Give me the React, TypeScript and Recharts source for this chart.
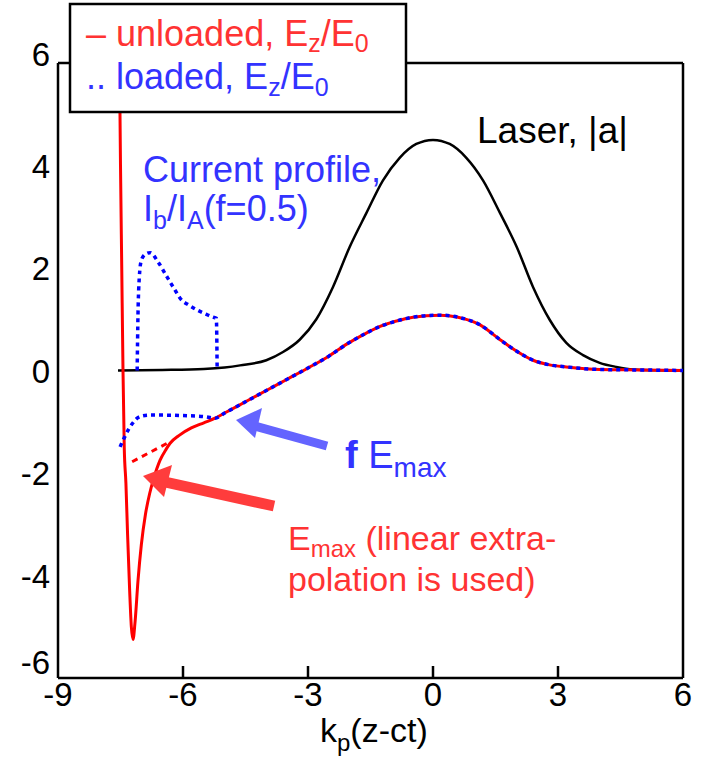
import React from "react";
import { LineChart, Line, XAxis, YAxis, ReferenceLine } from "recharts";

const xTicks = [-9, -6, -3, 0, 3, 6];
const yTicks = [-6, -4, -2, 0, 2, 4, 6];

// laser envelope |a|
const laser = [
  { x: -7.56, y: 0 }, { x: -6.5, y: 0.01 }, { x: -5.5, y: 0.03 }, { x: -5, y: 0.06 },
  { x: -4.63, y: 0.1 }, { x: -4, y: 0.2 }, { x: -3.6, y: 0.36 }, { x: -3.2, y: 0.6 },
  { x: -2.8, y: 1.0 }, { x: -2.4, y: 1.63 }, { x: -2.0, y: 2.41 }, { x: -1.6, y: 3.07 },
  { x: -1.2, y: 3.71 }, { x: -0.8, y: 4.15 }, { x: -0.4, y: 4.42 }, { x: 0, y: 4.5 },
  { x: 0.4, y: 4.42 }, { x: 0.8, y: 4.15 }, { x: 1.2, y: 3.71 }, { x: 1.61, y: 3.07 },
  { x: 2.01, y: 2.41 }, { x: 2.4, y: 1.63 }, { x: 2.8, y: 0.99 }, { x: 3.2, y: 0.54 },
  { x: 3.6, y: 0.3 }, { x: 4.0, y: 0.15 }, { x: 4.4, y: 0.07 }, { x: 4.8, y: 0.02 },
  { x: 5.4, y: 0.005 }, { x: 6, y: 0 },
];

// shared wake (x > -5.23)
const wakeTail = [
  { x: -5.0, y: -0.83 }, { x: -4.5, y: -0.61 }, { x: -4.0, y: -0.39 }, { x: -3.5, y: -0.17 },
  { x: -3.0, y: 0.05 }, { x: -2.5, y: 0.28 }, { x: -2.06, y: 0.52 }, { x: -1.6, y: 0.73 },
  { x: -1.27, y: 0.86 }, { x: -0.9, y: 0.96 }, { x: -0.48, y: 1.04 }, { x: 0.17, y: 1.08 },
  { x: 0.6, y: 1.04 }, { x: 1.13, y: 0.89 }, { x: 1.61, y: 0.6 }, { x: 2.0, y: 0.38 },
  { x: 2.4, y: 0.2 }, { x: 2.8, y: 0.11 }, { x: 3.2, y: 0.07 }, { x: 4.0, y: 0.02 },
  { x: 5.0, y: 0.01 }, { x: 6.0, y: 0 },
];

const unloadedHead = [
  { x: -7.53, y: 6.5 }, { x: -7.5, y: 4.0 }, { x: -7.47, y: 2.0 }, { x: -7.44, y: 0 },
  { x: -7.41, y: -1.5 }, { x: -7.37, y: -2.2 }, { x: -7.33, y: -3.2 }, { x: -7.28, y: -4.3 },
  { x: -7.24, y: -5.0 }, { x: -7.2, y: -5.25 }, { x: -7.15, y: -4.9 }, { x: -7.08, y: -4.1 },
  { x: -7.0, y: -3.4 }, { x: -6.9, y: -2.8 }, { x: -6.8, y: -2.4 }, { x: -6.7, y: -2.1 },
  { x: -6.55, y: -1.75 }, { x: -6.4, y: -1.53 }, { x: -6.31, y: -1.42 }, { x: -6.1, y: -1.27 },
  { x: -5.8, y: -1.12 }, { x: -5.5, y: -1.02 }, { x: -5.23, y: -0.93 },
];

const loadedHead = [
  { x: -7.51, y: -1.49 }, { x: -7.45, y: -1.38 }, { x: -7.39, y: -1.28 }, { x: -7.3, y: -1.14 },
  { x: -7.2, y: -1.02 }, { x: -7.1, y: -0.93 }, { x: -7.0, y: -0.89 }, { x: -6.8, y: -0.87 },
  { x: -6.5, y: -0.87 }, { x: -6.0, y: -0.88 }, { x: -5.5, y: -0.9 }, { x: -5.23, y: -0.93 },
];

const unloaded = [...unloadedHead, ...wakeTail];
const loaded = [...loadedHead, ...wakeTail];

// linear extrapolation of E_max
const extrap = [
  { x: -7.22, y: -1.78 }, { x: -6.31, y: -1.39 },
];

// current profile I_b/I_A
const current = [
  { x: -7.1, y: 0 }, { x: -7.08, y: 1.1 }, { x: -7.05, y: 1.8 }, { x: -7.0, y: 2.15 },
  { x: -6.9, y: 2.27 }, { x: -6.79, y: 2.3 }, { x: -6.6, y: 2.12 }, { x: -6.38, y: 1.82 },
  { x: -6.2, y: 1.58 }, { x: -6.07, y: 1.41 }, { x: -5.85, y: 1.27 }, { x: -5.66, y: 1.18 },
  { x: -5.45, y: 1.1 }, { x: -5.28, y: 1.04 }, { x: -5.2, y: 1.02 }, { x: -5.18, y: 0 },
];

const font = '"Liberation Sans", Arial, sans-serif';
const RED = "#ff0000";
const BLUE = "#0000ff";
const RED_TXT = "#ff3333";
const BLUE_TXT = "#3333ff";

const XTick = (props: any) => {
  const { x, y, payload } = props;
  const v = payload.value;
  return (
    <g>
      {v !== -9 && v !== 6 && (
        <line x1={x} x2={x} y1={y} y2={y - 12} stroke="#000" strokeWidth={2.5} />
      )}
      <text x={x} y={y + 28} textAnchor="middle" fontSize={33} fontFamily={font} fill="#000">
        {v}
      </text>
    </g>
  );
};

const YTick = (props: any) => {
  const { x, y, payload } = props;
  const v = payload.value;
  const shift = v === 6 ? -9 : v === -6 ? -16 : 0;
  return (
    <text x={x - 8} y={y + shift + 12} textAnchor="end" fontSize={33} fontFamily={font} fill="#000">
      {v}
    </text>
  );
};

export default function App() {
  return (
    <div style={{ position: "absolute", left: 0, top: 0, width: 705, height: 766, background: "#fff" }}>
      <LineChart width={705} height={766} margin={{ top: 63, right: 22, bottom: 0, left: 0 }}>
        <XAxis
          type="number"
          dataKey="x"
          domain={[-9, 6]}
          ticks={xTicks}
          height={88}
          tickSize={0}
          tickMargin={0}
          tickLine={false}
          tick={<XTick />}
          axisLine={{ stroke: "#000", strokeWidth: 2.5 }}
          allowDataOverflow
        />
        <YAxis
          type="number"
          domain={[-6, 6]}
          ticks={yTicks}
          width={58}
          tickSize={0}
          tickMargin={0}
          tickLine={false}
          tick={<YTick />}
          axisLine={{ stroke: "#000", strokeWidth: 2.5 }}
          allowDataOverflow
        />
        <ReferenceLine y={6} stroke="#000" strokeWidth={2.5} />
        <ReferenceLine x={6} stroke="#000" strokeWidth={2.5} />
        <Line data={laser} dataKey="y" type="monotone" stroke="#000" strokeWidth={2.5} dot={false} isAnimationActive={false} />
        <Line data={extrap} dataKey="y" type="linear" stroke={RED} strokeWidth={3} strokeDasharray="6 5" dot={false} isAnimationActive={false} />
        <Line data={unloaded} dataKey="y" type="monotone" stroke={RED} strokeWidth={3} dot={false} isAnimationActive={false} />
        <Line data={loaded} dataKey="y" type="monotone" stroke={BLUE} strokeWidth={3.5} strokeDasharray="4 4" dot={false} isAnimationActive={false} />
        <Line data={current} dataKey="y" type="monotone" stroke={BLUE} strokeWidth={3.5} strokeDasharray="4 4" dot={false} isAnimationActive={false} />
      </LineChart>
      <svg
        width={705}
        height={766}
        style={{ position: "absolute", left: 0, top: 0, pointerEvents: "none" }}
        fontFamily={font}
      >
        {/* legend */}
        <rect x={70} y={4} width={336} height={108} fill="#fff" stroke="#000" strokeWidth={2.5} />
        <text x={86} y={46} fontSize={36} fill={RED_TXT}>
          – unloaded, E<tspan dy={6} fontSize={25}>z</tspan>
          <tspan dy={-6}>/E</tspan>
          <tspan dy={6} fontSize={25}>0</tspan>
        </text>
        <text x={86} y={89} fontSize={36} fill={BLUE_TXT}>
          .. loaded, E<tspan dy={7} fontSize={25}>z</tspan>
          <tspan dy={-7}>/E</tspan>
          <tspan dy={7} fontSize={25}>0</tspan>
        </text>

        <text x={477} y={143} fontSize={37} fill="#000">Laser, |a|</text>

        <text x={143} y={182} fontSize={36} fill={BLUE_TXT}>Current profile,</text>
        <text x={143} y={221} fontSize={36} fill={BLUE_TXT}>
          I<tspan dy={8} fontSize={25}>b</tspan>
          <tspan dy={-8}>/I</tspan>
          <tspan dy={8} fontSize={25}>A</tspan>
          <tspan dy={-8}>(f=0.5)</tspan>
        </text>

        <text x={345} y={468} fontSize={38} fill={BLUE_TXT}>
          <tspan fontWeight="bold">f</tspan> E<tspan dy={9} fontSize={28}>max</tspan>
        </text>

        <text x={288} y={550} fontSize={34} fill={RED_TXT}>
          E<tspan dy={7} fontSize={24}>max</tspan>
          <tspan dy={-7}> (linear extra-</tspan>
        </text>
        <text x={288} y={591} fontSize={34} fill={RED_TXT}>polation is used)</text>

        {/* arrows */}
        <line x1={327} y1={446} x2={255} y2={426} stroke="#6464ff" strokeWidth={9} />
        <polygon points="236,420 262,408 255,438" fill="#6464ff" />
        <line x1={274} y1={506} x2={165} y2={482} stroke="#ff3c3c" strokeWidth={11} />
        <polygon points="143,476 172,465 164,497" fill="#ff3c3c" />

        {/* axis title */}
        <text x={320} y={742} fontSize={34} fill="#000">
          k<tspan dy={9} fontSize={24}>p</tspan>
          <tspan dy={-9}>(z-ct)</tspan>
        </text>
      </svg>
    </div>
  );
}
